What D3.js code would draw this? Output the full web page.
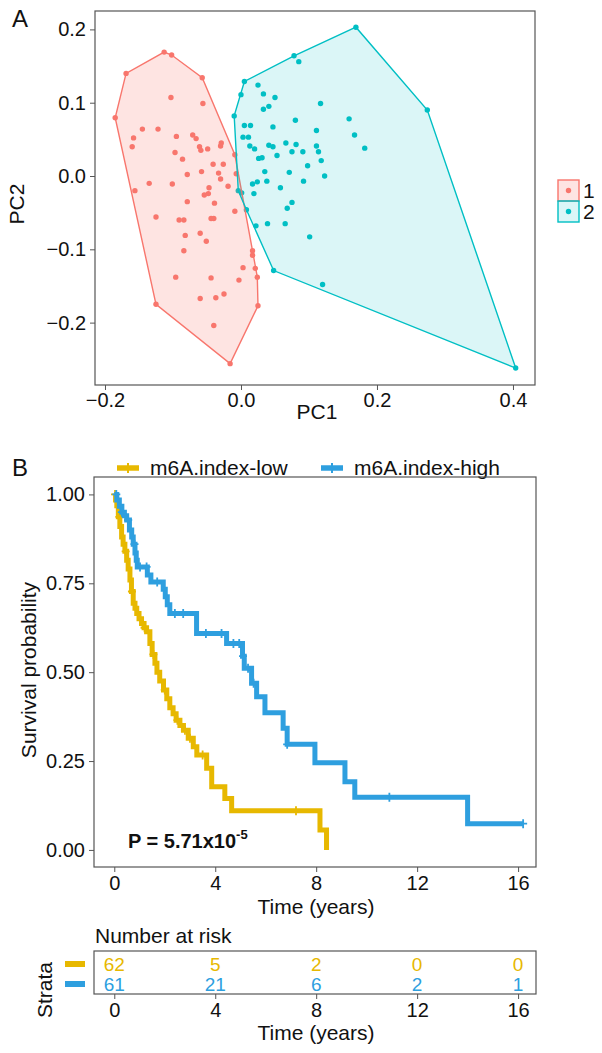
<!DOCTYPE html>
<html>
<head>
<meta charset="utf-8">
<script src="https://cdn.jsdelivr.net/npm/d3@7"></script>
<style>
body { margin: 0; background: #fff; }
svg text { font-family: "Liberation Sans", Arial, sans-serif; fill: #111; }
</style>
</head>
<body>
<main></main>
<script>
// ---- panel A data: PC1 / PC2 per cluster ----
var cluster1 = [
  [-0.185,0.0795],[-0.169,0.140],[-0.113,0.169],[-0.102,0.165],[-0.057,0.134],
  [-0.103,0.107],[-0.056,0.099],[-0.145,0.064],[-0.122,0.064],[-0.158,0.052],
  [-0.160,0.040],[-0.095,0.054],[-0.097,0.032],[-0.086,0.023],[-0.071,0.056],
  [-0.066,0.051],[-0.061,0.040],[-0.059,0.035],[-0.049,0.037],[-0.029,0.045],
  [-0.030,0.041],[-0.041,0.016],[-0.026,0.016],[-0.079,0.002],[-0.058,0.006],
  [-0.033,0.004],[-0.030,-0.004],[-0.135,-0.010],[-0.101,-0.011],[-0.047,-0.016],
  [-0.019,-0.014],[-0.156,-0.020],[-0.054,-0.026],[-0.048,-0.024],[-0.079,-0.035],
  [-0.039,-0.037],[-0.009,-0.048],[-0.125,-0.056],[-0.091,-0.060],[-0.084,-0.060],
  [-0.044,-0.058],[-0.040,-0.058],[-0.082,-0.081],[-0.060,-0.078],[-0.051,-0.089],
  [-0.084,-0.102],[0.017,-0.102],[0.017,-0.108],[0.003,-0.125],[0.021,-0.126],
  [-0.096,-0.138],[-0.044,-0.139],[-0.003,-0.142],[0.024,-0.138],[-0.060,-0.167],
  [-0.037,-0.166],[-0.025,-0.161],[-0.125,-0.175],[0.025,-0.177],[-0.040,-0.204],
  [-0.016,-0.256],[-0.009,0.029],[-0.007,0.003]
];
var cluster2 = [
  [0.169,0.203],[0.078,0.164],[0.085,0.156],[0.005,0.129],[0.000,0.111],
  [-0.010,0.082],[0.274,0.090],[0.025,0.124],[0.033,0.112],[0.050,0.107],
  [0.041,0.095],[0.033,0.091],[0.117,0.099],[0.080,0.076],[0.159,0.078],
  [0.005,0.069],[0.014,0.069],[0.047,0.067],[0.111,0.062],[0.167,0.056],
  [0.003,0.053],[0.011,0.053],[0.013,0.041],[0.020,0.037],[0.041,0.042],
  [0.047,0.040],[0.066,0.045],[0.081,0.043],[0.075,0.033],[0.091,0.033],
  [0.111,0.041],[0.114,0.033],[0.182,0.038],[0.026,0.024],[0.031,0.025],
  [0.053,0.028],[0.118,0.021],[0.098,0.014],[0.035,0.006],[0.071,0.005],
  [0.123,0.000],[0.038,-0.007],[0.092,-0.007],[0.017,-0.011],[0.024,-0.008],
  [0.058,-0.016],[0.019,-0.024],[0.075,-0.036],[0.068,-0.044],[0.039,-0.065],
  [0.065,-0.065],[0.022,-0.068],[-0.004,-0.020],[0.001,-0.023],[0.008,-0.046],
  [0.101,-0.083],[0.048,-0.129],[0.120,-0.148],[0.404,-0.262]
];
var clusterNames = ["1", "2"];
var pcXTicks = [-0.2, 0.0, 0.2, 0.4];
var pcYTicks = [-0.2, -0.1, 0.0, 0.1, 0.2];

// ---- panel B data: Kaplan-Meier steps ----
var lowTime = [0,0.05,0.1,0.16,0.22,0.29,0.35,0.42,0.49,0.55,0.62,0.68,0.75,0.82,0.89,0.98,1.08,1.18,1.28,1.41,1.5,1.61,1.69,1.8,1.95,2.08,2.2,2.33,2.45,2.6,2.74,2.93,3.13,3.27,3.66,3.86,4.38,4.65,8.15,8.41];
var lowSurv = [1,0.984,0.968,0.937,0.91,0.88,0.86,0.84,0.815,0.79,0.759,0.727,0.694,0.68,0.665,0.65,0.637,0.625,0.614,0.581,0.55,0.525,0.5,0.475,0.45,0.425,0.40,0.383,0.365,0.35,0.337,0.314,0.29,0.267,0.23,0.178,0.145,0.11,0.056,0];
var lowEnd = 8.41;
var lowCensor = [0.03,0.2,0.45,0.7,1.2,1.55,2.0,2.5,2.8,3.0,3.5,7.2];

var highTime = [0,0.1,0.2,0.3,0.4,0.49,0.6,0.69,0.75,0.82,0.87,0.91,1.31,1.45,1.94,2.02,2.1,2.2,3.26,4.45,5.08,5.15,5.44,5.64,5.97,6.69,6.85,7.95,9.14,9.53,14.0];
var highSurv = [1,0.984,0.967,0.95,0.94,0.928,0.90,0.88,0.86,0.835,0.815,0.796,0.773,0.754,0.733,0.712,0.69,0.665,0.609,0.581,0.545,0.511,0.469,0.431,0.386,0.342,0.297,0.245,0.192,0.148,0.074];
var highEnd = 16.2;
var highCensor = [0.08,0.3,0.55,0.8,1.02,1.28,1.7,2.4,2.73,3.63,4.25,4.72,4.95,5.1,5.3,5.52,6.85,10.9,16.2];

var groupNames = ["m6A.index-low", "m6A.index-high"];
var timeTicks = [0, 4, 8, 12, 16];
var survTicks = [0, 0.25, 0.5, 0.75, 1.0];
var riskLow = [62, 5, 2, 0, 0];
var riskHigh = [61, 21, 6, 2, 1];

var redCol = "#F8766D", tealCol = "#00BFC4";
var lowCol = "#E7B800", highCol = "#2E9FDF";
var boxCol = "#555";
var tickFont = "20px", titleFont = "21px";

var svg = d3.select("main").append("svg")
  .attr("width", 602).attr("height", 1053);
svg.append("rect").attr("width", 602).attr("height", 1053).attr("fill", "#fff");

function styleAxis(a) {
  a.select(".domain").remove();
  a.selectAll(".tick line").attr("stroke", boxCol);
  a.selectAll(".tick text").style("font-size", tickFont)
    .style("font-family", "Liberation Sans, Arial, sans-serif").attr("fill", "#111");
}

// ================= Panel A =================
var xA = d3.scaleLinear().domain([-0.2147, 0.4324]).range([95, 535]);
var yA = d3.scaleLinear().domain([-0.2851, 0.2251]).range([385, 11]);

svg.append("text").attr("x", 12).attr("y", 27).style("font-size", "24px").text("A");

var gA = svg.append("g");
var clusters = [cluster1, cluster2];
var cols = [redCol, tealCol];
var fillOp = [0.2, 0.14];

clusters.forEach(function(pts, i) {
  gA.selectAll(".pt" + i).data(pts).enter().append("circle")
    .attr("cx", d => xA(d[0])).attr("cy", d => yA(d[1]))
    .attr("r", 2.7).attr("fill", cols[i]);
});
clusters.forEach(function(pts, i) {
  var hull = d3.polygonHull(pts.map(d => [xA(d[0]), yA(d[1])]));
  gA.append("path")
    .attr("d", "M" + hull.join("L") + "Z")
    .attr("fill", cols[i]).attr("fill-opacity", fillOp[i])
    .attr("stroke", cols[i]).attr("stroke-width", 1.4);
});

gA.append("rect").attr("x", 95).attr("y", 11).attr("width", 440).attr("height", 374)
  .attr("fill", "none").attr("stroke", boxCol).attr("stroke-width", 1.2);

var axA = svg.append("g").attr("transform", "translate(0,385)")
  .call(d3.axisBottom(xA).tickValues(pcXTicks).tickFormat(d3.format(".1f")).tickSize(5).tickPadding(3));
var ayA = svg.append("g").attr("transform", "translate(95,0)")
  .call(d3.axisLeft(yA).tickValues(pcYTicks).tickFormat(d3.format(".1f")).tickSize(5).tickPadding(4));
styleAxis(axA);
styleAxis(ayA);

svg.append("text").attr("x", 317).attr("y", 419).attr("text-anchor", "middle")
  .style("font-size", titleFont).text("PC1");
svg.append("text").attr("transform", "translate(24,204) rotate(-90)").attr("text-anchor", "middle")
  .style("font-size", titleFont).text("PC2");

// legend A
clusterNames.forEach(function(n, i) {
  var y0 = 180 + i * 21;
  svg.append("rect").attr("x", 558).attr("y", y0).attr("width", 21).attr("height", 21)
    .attr("fill", cols[i]).attr("fill-opacity", fillOp[i]).attr("stroke", cols[i]).attr("stroke-width", 1.4);
  svg.append("circle").attr("cx", 568.5).attr("cy", y0 + 10.5).attr("r", 2.7).attr("fill", cols[i]);
  svg.append("text").attr("x", 583).attr("y", y0 + 18).style("font-size", titleFont).text(n);
});

// ================= Panel B =================
var xB = d3.scaleLinear().domain([-0.804, 16.71]).range([94, 536]);
var yB = d3.scaleLinear().domain([-0.048, 1.049]).range([867, 477]);

svg.append("text").attr("x", 12).attr("y", 476).style("font-size", "24px").text("B");

// legend B
var legX = [117, 321];
[lowCol, highCol].forEach(function(c, i) {
  var lx = legX[i];
  svg.append("line").attr("x1", lx).attr("x2", lx + 22).attr("y1", 468).attr("y2", 468)
    .attr("stroke", c).attr("stroke-width", 5.5);
  svg.append("path").attr("d", "M" + (lx + 11) + "," + 463 + "V473")
    .attr("stroke", c).attr("stroke-width", 2);
  svg.append("text").attr("x", lx + 33).attr("y", 475).style("font-size", titleFont).text(groupNames[i]);
});

function stepPath(times, surv, end) {
  var pts = [];
  times.forEach(function(t, i) {
    if (i > 0) pts.push([t, surv[i - 1]]);
    pts.push([t, surv[i]]);
  });
  pts.push([end, surv[surv.length - 1]]);
  return d3.line().x(d => xB(d[0])).y(d => yB(d[1]))(pts);
}
function survAt(times, surv, t) {
  var i = d3.bisectRight(times, t) - 1;
  return surv[Math.max(0, i)];
}

var gB = svg.append("g");
var curves = [
  {t: lowTime, s: lowSurv, end: lowEnd, c: lowCol, cen: lowCensor},
  {t: highTime, s: highSurv, end: highEnd, c: highCol, cen: highCensor}
];
curves.forEach(function(cv) {
  gB.append("path").attr("d", stepPath(cv.t, cv.s, cv.end))
    .attr("fill", "none").attr("stroke", cv.c).attr("stroke-width", 5)
    .attr("stroke-linejoin", "miter");
  gB.selectAll(null).data(cv.cen).enter().append("path")
    .attr("d", function(t) {
      var x = xB(t), y = yB(survAt(cv.t, cv.s, t));
      return "M" + (x - 4) + "," + y + "H" + (x + 4) + "M" + x + "," + (y - 4.5) + "V" + (y + 4.5);
    })
    .attr("stroke", cv.c).attr("stroke-width", 1.8);
});

gB.append("rect").attr("x", 94).attr("y", 477).attr("width", 442).attr("height", 390)
  .attr("fill", "none").attr("stroke", boxCol).attr("stroke-width", 1.2);

var axB = svg.append("g").attr("transform", "translate(0,867)")
  .call(d3.axisBottom(xB).tickValues(timeTicks).tickSize(5).tickPadding(4));
var ayB = svg.append("g").attr("transform", "translate(94,0)")
  .call(d3.axisLeft(yB).tickValues(survTicks).tickFormat(d3.format(".2f")).tickSize(5).tickPadding(4));
styleAxis(axB);
styleAxis(ayB);

svg.append("text").attr("x", 316).attr("y", 914).attr("text-anchor", "middle")
  .style("font-size", titleFont).text("Time (years)");
svg.append("text").attr("transform", "translate(36,670) rotate(-90)").attr("text-anchor", "middle")
  .style("font-size", titleFont).text("Survival probability");

var pText = svg.append("text").attr("x", 128).attr("y", 848)
  .style("font-size", "20px").style("font-weight", "bold");
pText.append("tspan").text("P = 5.71x10");
pText.append("tspan").attr("dy", -9).style("font-size", "13px").text("-5");

// ================= Risk table =================
svg.append("text").attr("x", 95).attr("y", 943).style("font-size", titleFont).text("Number at risk");
svg.append("rect").attr("x", 94).attr("y", 951).attr("width", 442).attr("height", 43)
  .attr("fill", "none").attr("stroke", boxCol).attr("stroke-width", 1.2);

[riskLow, riskHigh].forEach(function(row, i) {
  var yy = 964 + i * 20;
  svg.selectAll(null).data(row).enter().append("text")
    .attr("x", (d, j) => xB(timeTicks[j])).attr("y", yy + 7)
    .attr("text-anchor", "middle").style("font-size", "19px")
    .style("fill", i === 0 ? lowCol : highCol).text(d => d);
  svg.append("rect").attr("x", 65).attr("y", yy - 3).attr("width", 20).attr("height", 6)
    .attr("fill", i === 0 ? lowCol : highCol);
});
svg.append("text").attr("transform", "translate(52,990) rotate(-90)").attr("text-anchor", "middle")
  .style("font-size", titleFont).text("Strata");

var axR = svg.append("g").attr("transform", "translate(0,994)")
  .call(d3.axisBottom(xB).tickValues(timeTicks).tickSize(5).tickPadding(4));
styleAxis(axR);
svg.append("text").attr("x", 316).attr("y", 1040).attr("text-anchor", "middle")
  .style("font-size", titleFont).text("Time (years)");
</script>
</body>
</html>
